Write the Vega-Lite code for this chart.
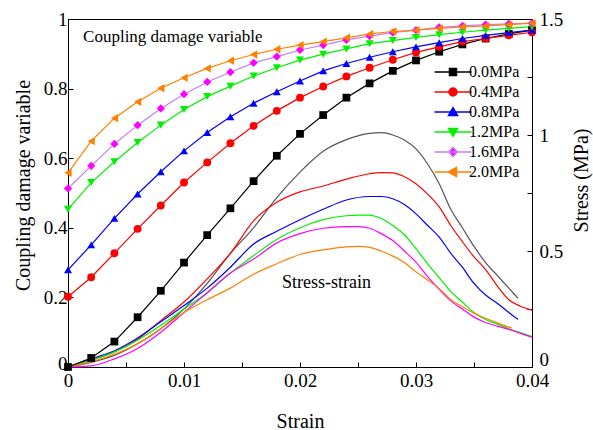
{
  "$schema": "https://vega.github.io/schema/vega-lite/v6.json",
  "width": 464,
  "height": 348,
  "autosize": {"type": "none"},
  "padding": {"left": 68, "top": 19, "right": 61, "bottom": 63},
  "background": "white",
  "config": {
    "font": "Liberation Serif",
    "view": {"stroke": "black", "strokeWidth": 1},
    "axis": {"grid": false, "domain": true, "domainColor": "black", "ticks": true, "tickColor": "black", "labelColor": "black", "titleColor": "black", "labelFont": "Liberation Serif", "titleFont": "Liberation Serif", "labelFontSize": 19, "titleFontSize": 20, "titleFontWeight": "normal", "domainWidth": 1, "tickWidth": 1, "labelOverlap": false, "labelFlush": false}
  },
  "datasets": {
    "damage": [
      {"series":"0.0MPa","strain":0,"damage":0},{"series":"0.0MPa","strain":0.002,"damage":0.026},{"series":"0.0MPa","strain":0.004,"damage":0.073},{"series":"0.0MPa","strain":0.006,"damage":0.143},{"series":"0.0MPa","strain":0.008,"damage":0.219},{"series":"0.0MPa","strain":0.01,"damage":0.3},{"series":"0.0MPa","strain":0.012,"damage":0.379},{"series":"0.0MPa","strain":0.014,"damage":0.456},{"series":"0.0MPa","strain":0.016,"damage":0.534},{"series":"0.0MPa","strain":0.018,"damage":0.607},{"series":"0.0MPa","strain":0.02,"damage":0.67},{"series":"0.0MPa","strain":0.022,"damage":0.724},{"series":"0.0MPa","strain":0.024,"damage":0.774},{"series":"0.0MPa","strain":0.026,"damage":0.815},{"series":"0.0MPa","strain":0.028,"damage":0.851},{"series":"0.0MPa","strain":0.03,"damage":0.881},{"series":"0.0MPa","strain":0.032,"damage":0.906},{"series":"0.0MPa","strain":0.034,"damage":0.927},{"series":"0.0MPa","strain":0.036,"damage":0.944},{"series":"0.0MPa","strain":0.038,"damage":0.957},{"series":"0.0MPa","strain":0.04,"damage":0.968},
      {"series":"0.4MPa","strain":0,"damage":0.202},{"series":"0.4MPa","strain":0.002,"damage":0.258},{"series":"0.4MPa","strain":0.004,"damage":0.327},{"series":"0.4MPa","strain":0.006,"damage":0.397},{"series":"0.4MPa","strain":0.008,"damage":0.464},{"series":"0.4MPa","strain":0.01,"damage":0.53},{"series":"0.4MPa","strain":0.012,"damage":0.588},{"series":"0.4MPa","strain":0.014,"damage":0.643},{"series":"0.4MPa","strain":0.016,"damage":0.693},{"series":"0.4MPa","strain":0.018,"damage":0.736},{"series":"0.4MPa","strain":0.02,"damage":0.774},{"series":"0.4MPa","strain":0.022,"damage":0.806},{"series":"0.4MPa","strain":0.024,"damage":0.835},{"series":"0.4MPa","strain":0.026,"damage":0.86},{"series":"0.4MPa","strain":0.028,"damage":0.883},{"series":"0.4MPa","strain":0.03,"damage":0.904},{"series":"0.4MPa","strain":0.032,"damage":0.92},{"series":"0.4MPa","strain":0.034,"damage":0.935},{"series":"0.4MPa","strain":0.036,"damage":0.944},{"series":"0.4MPa","strain":0.038,"damage":0.953},{"series":"0.4MPa","strain":0.04,"damage":0.962},
      {"series":"0.8MPa","strain":0,"damage":0.279},{"series":"0.8MPa","strain":0.002,"damage":0.351},{"series":"0.8MPa","strain":0.004,"damage":0.427},{"series":"0.8MPa","strain":0.006,"damage":0.497},{"series":"0.8MPa","strain":0.008,"damage":0.561},{"series":"0.8MPa","strain":0.01,"damage":0.621},{"series":"0.8MPa","strain":0.012,"damage":0.674},{"series":"0.8MPa","strain":0.014,"damage":0.719},{"series":"0.8MPa","strain":0.016,"damage":0.758},{"series":"0.8MPa","strain":0.018,"damage":0.791},{"series":"0.8MPa","strain":0.02,"damage":0.822},{"series":"0.8MPa","strain":0.022,"damage":0.851},{"series":"0.8MPa","strain":0.024,"damage":0.872},{"series":"0.8MPa","strain":0.026,"damage":0.89},{"series":"0.8MPa","strain":0.028,"damage":0.906},{"series":"0.8MPa","strain":0.03,"damage":0.92},{"series":"0.8MPa","strain":0.032,"damage":0.932},{"series":"0.8MPa","strain":0.034,"damage":0.944},{"series":"0.8MPa","strain":0.036,"damage":0.953},{"series":"0.8MPa","strain":0.038,"damage":0.961},{"series":"0.8MPa","strain":0.04,"damage":0.968},
      {"series":"1.2MPa","strain":0,"damage":0.453},{"series":"1.2MPa","strain":0.002,"damage":0.53},{"series":"1.2MPa","strain":0.004,"damage":0.59},{"series":"1.2MPa","strain":0.006,"damage":0.645},{"series":"1.2MPa","strain":0.008,"damage":0.695},{"series":"1.2MPa","strain":0.01,"damage":0.74},{"series":"1.2MPa","strain":0.012,"damage":0.777},{"series":"1.2MPa","strain":0.014,"damage":0.807},{"series":"1.2MPa","strain":0.016,"damage":0.836},{"series":"1.2MPa","strain":0.018,"damage":0.86},{"series":"1.2MPa","strain":0.02,"damage":0.882},{"series":"1.2MPa","strain":0.022,"damage":0.899},{"series":"1.2MPa","strain":0.024,"damage":0.914},{"series":"1.2MPa","strain":0.026,"damage":0.929},{"series":"1.2MPa","strain":0.028,"damage":0.938},{"series":"1.2MPa","strain":0.03,"damage":0.947},{"series":"1.2MPa","strain":0.032,"damage":0.955},{"series":"1.2MPa","strain":0.034,"damage":0.962},{"series":"1.2MPa","strain":0.036,"damage":0.968},{"series":"1.2MPa","strain":0.038,"damage":0.973},{"series":"1.2MPa","strain":0.04,"damage":0.978},
      {"series":"1.6MPa","strain":0,"damage":0.513},{"series":"1.6MPa","strain":0.002,"damage":0.578},{"series":"1.6MPa","strain":0.004,"damage":0.641},{"series":"1.6MPa","strain":0.006,"damage":0.695},{"series":"1.6MPa","strain":0.008,"damage":0.743},{"series":"1.6MPa","strain":0.01,"damage":0.784},{"series":"1.6MPa","strain":0.012,"damage":0.819},{"series":"1.6MPa","strain":0.014,"damage":0.847},{"series":"1.6MPa","strain":0.016,"damage":0.874},{"series":"1.6MPa","strain":0.018,"damage":0.892},{"series":"1.6MPa","strain":0.02,"damage":0.911},{"series":"1.6MPa","strain":0.022,"damage":0.925},{"series":"1.6MPa","strain":0.024,"damage":0.94},{"series":"1.6MPa","strain":0.026,"damage":0.951},{"series":"1.6MPa","strain":0.028,"damage":0.961},{"series":"1.6MPa","strain":0.03,"damage":0.968},{"series":"1.6MPa","strain":0.032,"damage":0.976},{"series":"1.6MPa","strain":0.034,"damage":0.98},{"series":"1.6MPa","strain":0.036,"damage":0.984},{"series":"1.6MPa","strain":0.038,"damage":0.986},{"series":"1.6MPa","strain":0.04,"damage":0.988},
      {"series":"2.0MPa","strain":0,"damage":0.558},{"series":"2.0MPa","strain":0.002,"damage":0.649},{"series":"2.0MPa","strain":0.004,"damage":0.715},{"series":"2.0MPa","strain":0.006,"damage":0.762},{"series":"2.0MPa","strain":0.008,"damage":0.801},{"series":"2.0MPa","strain":0.01,"damage":0.831},{"series":"2.0MPa","strain":0.012,"damage":0.858},{"series":"2.0MPa","strain":0.014,"damage":0.88},{"series":"2.0MPa","strain":0.016,"damage":0.898},{"series":"2.0MPa","strain":0.018,"damage":0.913},{"series":"2.0MPa","strain":0.02,"damage":0.925},{"series":"2.0MPa","strain":0.022,"damage":0.935},{"series":"2.0MPa","strain":0.024,"damage":0.946},{"series":"2.0MPa","strain":0.026,"damage":0.957},{"series":"2.0MPa","strain":0.028,"damage":0.964},{"series":"2.0MPa","strain":0.03,"damage":0.968},{"series":"2.0MPa","strain":0.032,"damage":0.973},{"series":"2.0MPa","strain":0.034,"damage":0.977},{"series":"2.0MPa","strain":0.036,"damage":0.98},{"series":"2.0MPa","strain":0.038,"damage":0.984},{"series":"2.0MPa","strain":0.04,"damage":0.988}
    ],
    "stress": [
      {"series":"0.0MPa","strain":0,"stress":0},{"series":"0.0MPa","strain":0.002,"stress":0.02},{"series":"0.0MPa","strain":0.004,"stress":0.05},{"series":"0.0MPa","strain":0.006,"stress":0.1},{"series":"0.0MPa","strain":0.008,"stress":0.165},{"series":"0.0MPa","strain":0.01,"stress":0.25},{"series":"0.0MPa","strain":0.012,"stress":0.36},{"series":"0.0MPa","strain":0.014,"stress":0.49},{"series":"0.0MPa","strain":0.016,"stress":0.6},{"series":"0.0MPa","strain":0.018,"stress":0.73},{"series":"0.0MPa","strain":0.02,"stress":0.84},{"series":"0.0MPa","strain":0.022,"stress":0.93},{"series":"0.0MPa","strain":0.024,"stress":0.98},{"series":"0.0MPa","strain":0.026,"stress":1.007},{"series":"0.0MPa","strain":0.027,"stress":1.01},{"series":"0.0MPa","strain":0.028,"stress":1.0},{"series":"0.0MPa","strain":0.029,"stress":0.978},{"series":"0.0MPa","strain":0.03,"stress":0.94},{"series":"0.0MPa","strain":0.031,"stress":0.875},{"series":"0.0MPa","strain":0.032,"stress":0.79},{"series":"0.0MPa","strain":0.033,"stress":0.68},{"series":"0.0MPa","strain":0.034,"stress":0.6},{"series":"0.0MPa","strain":0.035,"stress":0.52},{"series":"0.0MPa","strain":0.036,"stress":0.45},{"series":"0.0MPa","strain":0.037,"stress":0.395},{"series":"0.0MPa","strain":0.038,"stress":0.34},{"series":"0.0MPa","strain":0.0388,"stress":0.296},
      {"series":"0.4MPa","strain":0,"stress":0},{"series":"0.4MPa","strain":0.002,"stress":0.03},{"series":"0.4MPa","strain":0.004,"stress":0.065},{"series":"0.4MPa","strain":0.006,"stress":0.12},{"series":"0.4MPa","strain":0.008,"stress":0.2},{"series":"0.4MPa","strain":0.01,"stress":0.28},{"series":"0.4MPa","strain":0.012,"stress":0.38},{"series":"0.4MPa","strain":0.014,"stress":0.49},{"series":"0.4MPa","strain":0.016,"stress":0.63},{"series":"0.4MPa","strain":0.018,"stress":0.71},{"series":"0.4MPa","strain":0.02,"stress":0.755},{"series":"0.4MPa","strain":0.022,"stress":0.78},{"series":"0.4MPa","strain":0.024,"stress":0.81},{"series":"0.4MPa","strain":0.026,"stress":0.833},{"series":"0.4MPa","strain":0.027,"stress":0.838},{"series":"0.4MPa","strain":0.028,"stress":0.837},{"series":"0.4MPa","strain":0.029,"stress":0.82},{"series":"0.4MPa","strain":0.03,"stress":0.79},{"series":"0.4MPa","strain":0.031,"stress":0.745},{"series":"0.4MPa","strain":0.032,"stress":0.69},{"series":"0.4MPa","strain":0.033,"stress":0.61},{"series":"0.4MPa","strain":0.034,"stress":0.54},{"series":"0.4MPa","strain":0.035,"stress":0.475},{"series":"0.4MPa","strain":0.036,"stress":0.42},{"series":"0.4MPa","strain":0.037,"stress":0.35},{"series":"0.4MPa","strain":0.038,"stress":0.29},{"series":"0.4MPa","strain":0.039,"stress":0.262},{"series":"0.4MPa","strain":0.04,"stress":0.245},
      {"series":"0.8MPa","strain":0,"stress":0},{"series":"0.8MPa","strain":0.002,"stress":0.035},{"series":"0.8MPa","strain":0.004,"stress":0.07},{"series":"0.8MPa","strain":0.006,"stress":0.125},{"series":"0.8MPa","strain":0.008,"stress":0.195},{"series":"0.8MPa","strain":0.01,"stress":0.265},{"series":"0.8MPa","strain":0.012,"stress":0.34},{"series":"0.8MPa","strain":0.014,"stress":0.43},{"series":"0.8MPa","strain":0.016,"stress":0.53},{"series":"0.8MPa","strain":0.018,"stress":0.585},{"series":"0.8MPa","strain":0.02,"stress":0.635},{"series":"0.8MPa","strain":0.022,"stress":0.68},{"series":"0.8MPa","strain":0.024,"stress":0.72},{"series":"0.8MPa","strain":0.026,"stress":0.735},{"series":"0.8MPa","strain":0.027,"stress":0.735},{"series":"0.8MPa","strain":0.028,"stress":0.725},{"series":"0.8MPa","strain":0.029,"stress":0.7},{"series":"0.8MPa","strain":0.03,"stress":0.66},{"series":"0.8MPa","strain":0.031,"stress":0.61},{"series":"0.8MPa","strain":0.032,"stress":0.56},{"series":"0.8MPa","strain":0.033,"stress":0.49},{"series":"0.8MPa","strain":0.034,"stress":0.43},{"series":"0.8MPa","strain":0.035,"stress":0.36},{"series":"0.8MPa","strain":0.036,"stress":0.31},{"series":"0.8MPa","strain":0.037,"stress":0.275},{"series":"0.8MPa","strain":0.038,"stress":0.235},{"series":"0.8MPa","strain":0.0388,"stress":0.205},
      {"series":"1.2MPa","strain":0,"stress":0},{"series":"1.2MPa","strain":0.002,"stress":0.03},{"series":"1.2MPa","strain":0.004,"stress":0.065},{"series":"1.2MPa","strain":0.006,"stress":0.115},{"series":"1.2MPa","strain":0.008,"stress":0.18},{"series":"1.2MPa","strain":0.01,"stress":0.25},{"series":"1.2MPa","strain":0.012,"stress":0.32},{"series":"1.2MPa","strain":0.014,"stress":0.405},{"series":"1.2MPa","strain":0.016,"stress":0.48},{"series":"1.2MPa","strain":0.018,"stress":0.55},{"series":"1.2MPa","strain":0.02,"stress":0.6},{"series":"1.2MPa","strain":0.022,"stress":0.635},{"series":"1.2MPa","strain":0.024,"stress":0.652},{"series":"1.2MPa","strain":0.025,"stress":0.655},{"series":"1.2MPa","strain":0.026,"stress":0.655},{"series":"1.2MPa","strain":0.027,"stress":0.64},{"series":"1.2MPa","strain":0.028,"stress":0.61},{"series":"1.2MPa","strain":0.029,"stress":0.57},{"series":"1.2MPa","strain":0.03,"stress":0.51},{"series":"1.2MPa","strain":0.031,"stress":0.445},{"series":"1.2MPa","strain":0.032,"stress":0.385},{"series":"1.2MPa","strain":0.033,"stress":0.325},{"series":"1.2MPa","strain":0.034,"stress":0.28},{"series":"1.2MPa","strain":0.035,"stress":0.235},{"series":"1.2MPa","strain":0.036,"stress":0.205},{"series":"1.2MPa","strain":0.037,"stress":0.185},{"series":"1.2MPa","strain":0.038,"stress":0.165},{"series":"1.2MPa","strain":0.039,"stress":0.148},{"series":"1.2MPa","strain":0.04,"stress":0.131},
      {"series":"1.6MPa","strain":0,"stress":0},{"series":"1.6MPa","strain":0.002,"stress":0.005},{"series":"1.6MPa","strain":0.004,"stress":0.035},{"series":"1.6MPa","strain":0.006,"stress":0.08},{"series":"1.6MPa","strain":0.008,"stress":0.15},{"series":"1.6MPa","strain":0.01,"stress":0.235},{"series":"1.6MPa","strain":0.012,"stress":0.32},{"series":"1.6MPa","strain":0.014,"stress":0.405},{"series":"1.6MPa","strain":0.016,"stress":0.465},{"series":"1.6MPa","strain":0.018,"stress":0.535},{"series":"1.6MPa","strain":0.02,"stress":0.575},{"series":"1.6MPa","strain":0.022,"stress":0.598},{"series":"1.6MPa","strain":0.024,"stress":0.605},{"series":"1.6MPa","strain":0.025,"stress":0.605},{"series":"1.6MPa","strain":0.026,"stress":0.598},{"series":"1.6MPa","strain":0.027,"stress":0.575},{"series":"1.6MPa","strain":0.028,"stress":0.545},{"series":"1.6MPa","strain":0.029,"stress":0.5},{"series":"1.6MPa","strain":0.03,"stress":0.452},{"series":"1.6MPa","strain":0.031,"stress":0.39},{"series":"1.6MPa","strain":0.032,"stress":0.335},{"series":"1.6MPa","strain":0.033,"stress":0.285},{"series":"1.6MPa","strain":0.034,"stress":0.25},{"series":"1.6MPa","strain":0.035,"stress":0.215},{"series":"1.6MPa","strain":0.036,"stress":0.192},{"series":"1.6MPa","strain":0.037,"stress":0.176},{"series":"1.6MPa","strain":0.038,"stress":0.162},{"series":"1.6MPa","strain":0.039,"stress":0.145},{"series":"1.6MPa","strain":0.04,"stress":0.128},
      {"series":"2.0MPa","strain":0,"stress":0},{"series":"2.0MPa","strain":0.002,"stress":0.023},{"series":"2.0MPa","strain":0.004,"stress":0.055},{"series":"2.0MPa","strain":0.006,"stress":0.1},{"series":"2.0MPa","strain":0.008,"stress":0.165},{"series":"2.0MPa","strain":0.01,"stress":0.235},{"series":"2.0MPa","strain":0.012,"stress":0.29},{"series":"2.0MPa","strain":0.014,"stress":0.34},{"series":"2.0MPa","strain":0.016,"stress":0.4},{"series":"2.0MPa","strain":0.018,"stress":0.445},{"series":"2.0MPa","strain":0.02,"stress":0.485},{"series":"2.0MPa","strain":0.022,"stress":0.505},{"series":"2.0MPa","strain":0.024,"stress":0.518},{"series":"2.0MPa","strain":0.025,"stress":0.52},{"series":"2.0MPa","strain":0.026,"stress":0.516},{"series":"2.0MPa","strain":0.027,"stress":0.5},{"series":"2.0MPa","strain":0.028,"stress":0.478},{"series":"2.0MPa","strain":0.029,"stress":0.45},{"series":"2.0MPa","strain":0.03,"stress":0.41},{"series":"2.0MPa","strain":0.031,"stress":0.375},{"series":"2.0MPa","strain":0.032,"stress":0.338},{"series":"2.0MPa","strain":0.033,"stress":0.29},{"series":"2.0MPa","strain":0.034,"stress":0.26},{"series":"2.0MPa","strain":0.035,"stress":0.232},{"series":"2.0MPa","strain":0.036,"stress":0.21},{"series":"2.0MPa","strain":0.037,"stress":0.19},{"series":"2.0MPa","strain":0.038,"stress":0.172},{"series":"2.0MPa","strain":0.0383,"stress":0.167}
    ]
  },
  "layer": [
    {
      "data": {"name": "stress"},
      "mark": {"type": "line", "interpolate": "monotone", "strokeWidth": 1.2},
      "encoding": {
        "x": {"field": "strain", "type": "quantitative", "scale": {"domain": [0, 0.04], "nice": false, "zero": false},
          "axis": {"title": "Strain", "values": [0, 0.005, 0.01, 0.015, 0.02, 0.025, 0.03, 0.035, 0.04],
            "labelExpr": "abs(datum.value*100-round(datum.value*100))<0.001 ? format(datum.value,'.2~f') : ''",
            "tickSize": -5, "labelPadding": 9, "titlePadding": 21}},
        "y": {"field": "stress", "type": "quantitative", "scale": {"domain": [0, 1.5], "nice": false, "zero": false},
          "axis": {"orient": "right", "title": "Stress (MPa)", "titleAngle": 270, "titleY": 161, "values": [0, 0.25, 0.5, 0.75, 1, 1.25, 1.5],
            "labelExpr": "abs(datum.value*2-round(datum.value*2))<0.001 ? format(datum.value,'.1~f') : ''",
            "labelOffset": {"condition": {"test": "datum.value == 0", "value": -8}, "value": 0},
            "tickSize": -5, "labelPadding": 12, "titlePadding": 29}},
        "stroke": {"field": "series", "type": "nominal",
          "scale": {"domain": ["0.0MPa", "0.4MPa", "0.8MPa", "1.2MPa", "1.6MPa", "2.0MPa"], "range": ["#555555", "#ff0000", "#0000ff", "#00f000", "#ff00ff", "#ff8000"]},
          "legend": null}
      }
    },
    {
      "layer": [
        {
          "data": {"name": "damage"},
          "mark": {"type": "line", "strokeWidth": 1.2},
          "encoding": {
            "x": {"field": "strain", "type": "quantitative"},
            "y": {"field": "damage", "type": "quantitative", "scale": {"domain": [0, 1], "nice": false, "zero": false},
              "axis": {"orient": "left", "title": "Coupling damage variable", "titleY": 166, "values": [0, 0.1, 0.2, 0.3, 0.4, 0.5, 0.6, 0.7, 0.8, 0.9, 1],
                "labelExpr": "abs(datum.value*5-round(datum.value*5))<0.001 ? format(datum.value,'.1~f') : ''",
                "labelOffset": {"condition": {"test": "datum.value == 0", "value": -4}, "value": 0},
                "tickSize": -5, "labelPadding": 6, "titlePadding": 10}},
            "stroke": {"field": "series", "type": "nominal",
              "scale": {"domain": ["0.0MPa", "0.4MPa", "0.8MPa", "1.2MPa", "1.6MPa", "2.0MPa"], "range": ["#000000", "#ff0000", "#0000ff", "#00f000", "#c080ff", "#ff8000"]},
              "legend": null}
          }
        },
        {
          "data": {"name": "damage"},
          "mark": {"type": "point", "filled": true, "opacity": 1, "strokeWidth": 0},
          "encoding": {
            "x": {"field": "strain", "type": "quantitative"},
            "y": {"field": "damage", "type": "quantitative"},
            "fill": {"field": "series", "type": "nominal",
              "scale": {"domain": ["0.0MPa", "0.4MPa", "0.8MPa", "1.2MPa", "1.6MPa", "2.0MPa"], "range": ["#000000", "#ff0000", "#0000ff", "#00f000", "#ff00ff", "#ff8000"]},
              "legend": null},
            "shape": {"field": "series", "type": "nominal",
              "scale": {"domain": ["0.0MPa", "0.4MPa", "0.8MPa", "1.2MPa", "1.6MPa", "2.0MPa"], "range": ["square", "circle", "triangle-up", "triangle-down", "diamond", "triangle-left"]},
              "legend": null},
            "size": {"field": "series", "type": "nominal",
              "scale": {"domain": ["0.0MPa", "0.4MPa", "0.8MPa", "1.2MPa", "1.6MPa", "2.0MPa"], "range": [60, 70, 85, 85, 75, 85]},
              "legend": null}
          }
        },
        {
          "data": {"name": "damage"},
          "transform": [{"filter": "datum.strain < 0"}],
          "mark": {"type": "point", "filled": true, "strokeWidth": 1.5},
          "encoding": {
            "x": {"field": "strain", "type": "quantitative"},
            "y": {"field": "damage", "type": "quantitative"},
            "shape": {"field": "series", "type": "nominal",
              "scale": {"domain": ["0.0MPa", "0.4MPa", "0.8MPa", "1.2MPa", "1.6MPa", "2.0MPa"],
                "range": [
                  "M-3.7,0H3.7M-0.7,-0.7H0.7V0.7H-0.7Z",
                  "M-3.7,0H3.7M-0.8,0A0.8,0.8,0,1,0,0.8,0A0.8,0.8,0,1,0,-0.8,0Z",
                  "M-3.7,0H3.7M0,-0.85L0.9,0.7H-0.9Z",
                  "M-3.7,0H3.7M0,0.85L0.9,-0.7H-0.9Z",
                  "M-3.7,0H3.7M0,-0.95L0.85,0L0,0.95L-0.85,0Z",
                  "M-3.7,0H3.7M-0.95,0L0.7,-0.9V0.9Z"
                ]},
              "legend": {"orient": "none", "legendX": 377, "legendY": 45, "title": null, "symbolSize": 100, "symbolStrokeWidth": 1.5, "labelFontSize": 16, "labelFont": "Liberation Serif", "labelColor": "black", "labelOffset": 8, "rowPadding": 4, "padding": 0, "symbolOpacity": 1}},
            "fill": {"field": "series", "type": "nominal",
              "scale": {"domain": ["0.0MPa", "0.4MPa", "0.8MPa", "1.2MPa", "1.6MPa", "2.0MPa"], "range": ["#000000", "#ff0000", "#0000ff", "#00f000", "#ff00ff", "#ff8000"]},
              "legend": {"orient": "none", "legendX": 377, "legendY": 45, "title": null, "symbolSize": 100, "symbolStrokeWidth": 1.5, "labelFontSize": 16, "labelFont": "Liberation Serif", "labelColor": "black", "labelOffset": 8, "rowPadding": 4, "padding": 0, "symbolOpacity": 1}},
            "stroke": {"field": "series", "type": "nominal",
              "scale": {"domain": ["0.0MPa", "0.4MPa", "0.8MPa", "1.2MPa", "1.6MPa", "2.0MPa"], "range": ["#000000", "#ff0000", "#0000ff", "#00f000", "#c080ff", "#ff8000"]},
              "legend": {"orient": "none", "legendX": 377, "legendY": 45, "title": null, "symbolSize": 100, "symbolStrokeWidth": 1.5, "labelFontSize": 16, "labelFont": "Liberation Serif", "labelColor": "black", "labelOffset": 8, "rowPadding": 4, "padding": 0, "symbolOpacity": 1}}
          }
        },
        {
          "data": {"values": [{}]},
          "mark": {"type": "text", "text": "Coupling damage variable", "align": "left", "baseline": "alphabetic", "fontSize": 17, "font": "Liberation Serif", "color": "black"},
          "encoding": {
            "x": {"datum": 0.0013, "type": "quantitative"},
            "y": {"datum": 0.934, "type": "quantitative"}
          }
        },
        {
          "data": {"values": [{}]},
          "mark": {"type": "text", "text": "Stress-strain", "align": "left", "baseline": "alphabetic", "fontSize": 18, "font": "Liberation Serif", "color": "black"},
          "encoding": {
            "x": {"datum": 0.01845, "type": "quantitative"},
            "y": {"datum": 0.227, "type": "quantitative"}
          }
        }
      ],
      "resolve": {"scale": {"stroke": "independent", "fill": "independent", "shape": "independent", "size": "independent"}}
    }
  ],
  "resolve": {"scale": {"y": "independent", "stroke": "independent"}}
}
